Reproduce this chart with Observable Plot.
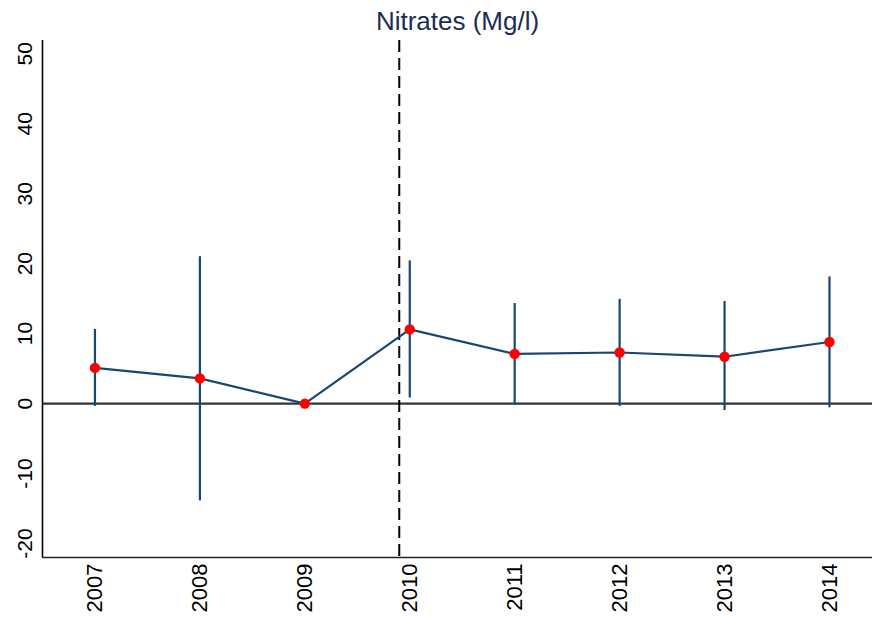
<!DOCTYPE html>
<html>
<head>
<meta charset="utf-8">
<script src="https://cdn.jsdelivr.net/npm/d3@7"></script>
<script src="https://cdn.jsdelivr.net/npm/@observablehq/plot@0.6"></script>
<style>
  html, body { margin: 0; padding: 0; background: #fff; }
  svg { display: block; }
</style>
</head>
<body>
<div id="chart"></div>
<script>
const years = [2007, 2008, 2009, 2010, 2011, 2012, 2013, 2014];
const estimates = [5.1, 3.6, 0, 10.6, 7.1, 7.3, 6.7, 8.8];
const lower = [-0.4, -13.9, null, 0.8, -0.2, -0.4, -1.0, -0.6];
const upper = [10.6, 21.0, null, 20.4, 14.3, 14.9, 14.6, 18.1];
const yTicks = [-20, -10, 0, 10, 20, 30, 40, 50];
const xTicks = years;
const eventYear = 2009.9;
const title = "Nitrates (Mg/l)";
const xDomain = [2006.5, 2014.41];
const yDomain = [-22, 51.9];

const data = years.map((y, i) => ({year: y, est: estimates[i], lo: lower[i], hi: upper[i]}));
const ciData = data.filter(d => d.lo != null);

const navy = "#1a476f";

const chart = Plot.plot({
  width: 872,
  height: 618,
  marginLeft: 42,
  marginRight: 0,
  marginTop: 40,
  marginBottom: 61,
  style: {fontFamily: "Arial, 'Liberation Sans', sans-serif", background: "#fff"},
  x: {type: "linear", domain: xDomain, axis: null},
  y: {type: "linear", domain: yDomain, axis: null},
  marks: [
    Plot.ruleY([0], {stroke: "#333", strokeWidth: 2.2}),
    Plot.ruleX([eventYear], {stroke: "#000", strokeWidth: 2, strokeDasharray: "12,6"}),
    Plot.ruleX(ciData, {x: "year", y1: "lo", y2: "hi", stroke: navy, strokeWidth: 2.2}),
    Plot.line(data, {x: "year", y: "est", stroke: navy, strokeWidth: 2.2}),
    Plot.dot(data, {x: "year", y: "est", r: 5.2, fill: "#ff0000", stroke: "none"}),
    Plot.ruleX([xDomain[0]], {stroke: "#000", strokeWidth: 1.6}),
    Plot.ruleY([yDomain[0]], {stroke: "#222", strokeWidth: 1.6}),
    Plot.text(yTicks, {y: d => d, text: d => String(d), frameAnchor: "left", dx: -17, rotate: -90,
      textAnchor: "middle", lineAnchor: "middle", fontSize: 21, fill: "#000"}),
    Plot.text(xTicks, {x: d => d, text: d => String(d), frameAnchor: "bottom", dy: 6, rotate: -90,
      textAnchor: "end", lineAnchor: "middle", fontSize: 22, fill: "#000"}),
    Plot.text([title], {text: d => d, frameAnchor: "top", dy: -19, lineAnchor: "middle",
      fontSize: 26, fill: "#1c2d54"})
  ]
});
document.getElementById("chart").appendChild(chart);
</script>
</body>
</html>
